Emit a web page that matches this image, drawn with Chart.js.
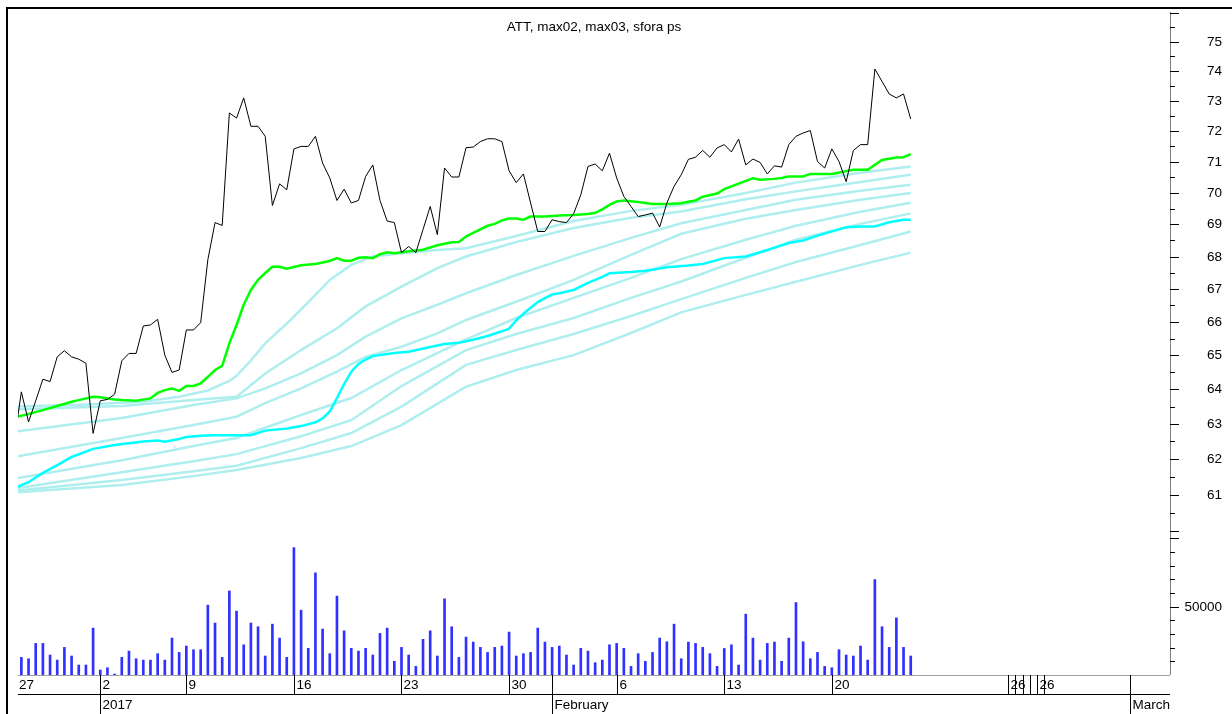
<!DOCTYPE html>
<html>
<head>
<meta charset="utf-8">
<script src="https://cdn.jsdelivr.net/npm/chart.js@4.4.0/dist/chart.umd.min.js"></script>
<style>
  html, body { margin: 0; padding: 0; background: #fff; }
  #wrap { position: relative; width: 1232px; height: 714px; }
</style>
</head>
<body>
<div id="wrap"><canvas id="chart" width="1232" height="714"></canvas></div>
<script>
// price bars, one point every 1/3 of a trading day (index 0 = 27 Dec)
var closePrice = [62.51, 63.93, 63.06, 63.67, 64.30, 64.23, 64.96, 65.14, 64.96, 64.89,
  64.77, 62.73, 63.67, 63.71, 63.86, 64.84, 65.06, 65.06, 65.88, 65.91,
  66.08, 65.01, 64.50, 64.57, 65.76, 65.76, 65.98, 67.90, 69.06, 68.97,
  72.60, 72.43, 73.10, 72.16, 72.16, 71.83, 69.60, 70.29, 70.10, 71.42,
  71.50, 71.50, 71.83, 70.96, 70.48, 69.76, 70.12, 69.68, 69.76, 70.53,
  70.90, 69.76, 69.11, 69.06, 68.12, 68.31, 68.12, 68.84, 69.57, 68.68,
  70.80, 70.51, 70.51, 71.46, 71.48, 71.66, 71.75, 71.75, 71.66, 70.71,
  70.33, 70.61, 69.68, 68.78, 68.78, 69.15, 69.09, 69.06, 69.34, 69.94,
  70.85, 70.93, 70.71, 71.28, 70.48, 69.89, 69.57, 69.25, 69.30, 69.36,
  68.92, 69.68, 70.21, 70.58, 71.08, 71.15, 71.37, 71.15, 71.45, 71.56,
  71.32, 71.74, 70.90, 71.09, 70.98, 70.61, 70.87, 70.83, 71.56, 71.83,
  71.94, 72.02, 71.01, 70.80, 71.42, 71.01, 70.36, 71.37, 71.56, 71.56,
  74.07, 73.65, 73.23, 73.10, 73.23, 72.40];

// volume, starting at index 1
var volume = [12900, 11900, 23100, 23100, 14600, 10900, 20200, 13900, 7300, 7300,
  34300, 3650, 5300, 730, 12900, 17500, 11900, 10900, 10900, 15600,
  10900, 27000, 16500, 21200, 18500, 18500, 51100, 38000, 12900, 61500,
  46700, 22100, 38000, 35300, 13900, 37200, 27000, 12900, 93200, 47400,
  19500, 74700, 33600, 15600, 57700, 32300, 19500, 17500, 19500, 14600,
  30400, 34300, 10000, 20200, 14600, 6300, 26100, 32300, 13900, 55700,
  35300, 12900, 27700, 24100, 20200, 16500, 20200, 21200, 31400, 13900,
  15600, 16500, 34300, 24100, 20200, 21200, 14600, 7300, 19500, 17500,
  9000, 10900, 22100, 23100, 19500, 6300, 15600, 10000, 16500, 27000,
  24300, 37200, 11900, 24100, 23100, 20200, 15600, 6300, 19400, 22100,
  7300, 44500, 27000, 10900, 23100, 24100, 10000, 27000, 53000, 24300,
  11900, 16500, 6300, 5300, 18500, 14600, 13900, 21200, 10900, 69800,
  35300, 20200, 41800, 20200, 13900];

// [index, value]
var max02 = [[0,63.19],[2,63.29],[4,63.40],[6,63.52],[8,63.64],[9,63.69],[11,63.79],[12,63.77],[14,63.71],[15,63.69],
  [17,63.67],[19,63.74],[20,63.90],[21,63.98],[22,64.03],[23,63.96],[24,64.10],[25,64.10],[26,64.18],[27,64.37],
  [28,64.57],[29,64.69],[30,65.36],[31,65.91],[32,66.52],[33,66.97],[34,67.28],[35,67.49],[36,67.68],[37,67.68],
  [38,67.62],[40,67.73],[42,67.77],[44,67.86],[45,67.95],[46,67.87],[47,67.87],[48,67.96],[49,67.98],[50,67.95],
  [51,68.07],[52,68.13],[53,68.10],[55,68.16],[57,68.21],[59,68.35],[61,68.44],[62,68.45],[63,68.62],[64,68.74],
  [66,68.96],[67,69.02],[68,69.13],[69,69.19],[70,69.19],[71,69.15],[72,69.25],[74,69.25],[76,69.28],[78,69.30],
  [80,69.33],[81,69.37],[82,69.48],[83,69.62],[84,69.73],[85,69.76],[87,69.71],[89,69.65],[91,69.65],[93,69.67],
  [94,69.72],[95,69.76],[96,69.88],[98,69.98],[99,70.12],[101,70.30],[103,70.47],[104,70.42],[106,70.45],[107,70.48],
  [108,70.53],[110,70.53],[111,70.61],[114,70.61],[117,70.74],[119,70.74],[121,71.06],[123,71.14],[124,71.15],[125,71.25]];

var max03 = [[0,61.18],[2,61.35],[4,61.61],[6,61.83],[8,62.06],[10,62.21],[11,62.29],[14,62.40],[16,62.45],[18,62.50],
  [20,62.53],[21,62.49],[23,62.57],[24,62.63],[26,62.66],[28,62.68],[31,62.68],[33,62.68],[35,62.81],[38,62.87],
  [40,62.94],[42,63.05],[43,63.16],[44,63.36],[45,63.75],[46,64.16],[47,64.52],[48,64.75],[49,64.88],[50,64.98],
  [53,65.07],[55,65.11],[58,65.25],[60,65.34],[62,65.38],[64,65.47],[66,65.58],[68,65.72],[69,65.80],[70,66.05],
  [71,66.25],[72,66.43],[73,66.60],[74,66.72],[75,66.83],[76,66.87],[78,66.97],[80,67.19],[82,67.37],[83,67.48],
  [86,67.52],[88,67.56],[91,67.67],[94,67.72],[96,67.77],[99,67.95],[102,68.00],[105,68.20],[108,68.42],[110,68.50],
  [112,68.65],[116,68.91],[118,68.94],[120,68.94],[122,69.07],[124,69.15],[125,69.15]];

var band1 = [[0,63.50],[10,63.56],[18,63.64],[23,63.79],[27,63.97],[30,64.25],[31,64.40],[33,64.85],[35,65.36],[38,65.95],
  [41,66.60],[44,67.28],[47,67.74],[50,68.00],[54,68.10],[59,68.20],[63,68.26],[70,68.64],[78,69.11],[86,69.43],
  [93,69.62],[102,70.00],[109,70.33],[118,70.65],[125,70.85]];
var band2 = [[0,63.42],[15,63.52],[25,63.69],[31,63.79],[35,64.47],[40,65.16],[45,65.81],[49,66.47],[54,67.07],[59,67.64],
  [63,68.00],[70,68.45],[78,68.89],[86,69.21],[93,69.41],[102,69.80],[109,70.05],[118,70.35],[125,70.58]];
var band3 = [[0,62.78],[15,63.17],[25,63.55],[31,63.74],[35,64.03],[40,64.47],[45,65.01],[49,65.56],[54,66.11],[59,66.52],
  [63,66.87],[70,67.43],[78,68.02],[86,68.58],[93,69.04],[102,69.46],[109,69.78],[118,70.07],[125,70.26]];
var band4 = [[0,62.06],[15,62.60],[25,62.97],[31,63.21],[35,63.60],[40,64.03],[45,64.52],[49,64.96],[54,65.26],[59,65.66],
  [63,66.06],[70,66.61],[78,67.28],[86,68.05],[93,68.71],[102,69.18],[109,69.46],[118,69.78],[125,70.00]];
var band5 = [[0,61.45],[15,61.97],[25,62.37],[31,62.60],[40,63.26],[47,63.75],[54,64.57],[63,65.48],[70,66.12],[78,66.73],
  [86,67.34],[93,67.92],[102,68.52],[109,68.96],[118,69.40],[125,69.69]];
var band6 = [[0,61.17],[15,61.63],[25,61.94],[31,62.14],[40,62.65],[47,63.11],[54,64.10],[63,65.16],[70,65.64],[78,66.12],
  [86,66.73],[93,67.23],[102,67.96],[109,68.52],[118,69.02],[125,69.35]];
var band7 = [[0,61.11],[15,61.41],[25,61.66],[31,61.81],[40,62.31],[47,62.74],[54,63.50],[63,64.72],[70,65.16],[78,65.64],
  [86,66.18],[93,66.69],[102,67.34],[109,67.83],[118,68.36],[125,68.78]];
var band8 = [[0,61.06],[15,61.27],[25,61.52],[31,61.69],[40,62.03],[47,62.37],[54,62.97],[63,64.08],[70,64.57],[78,65.01],
  [86,65.67],[93,66.29],[102,66.82],[109,67.22],[118,67.74],[125,68.12]];

var dayTickPos = [0, 12, 24, 39, 54, 69, 84, 99, 114, 138.6, 139.6, 140.6, 141.6, 142.6, 143.6];
var dayTickLabels = ['27', '2', '9', '16', '23', '30', '6', '13', '20', '26', '', '', '', '26', ''];
var periodTickPos = [12, 75, 155.6];
var periodTickLabels = ['2017', 'February', 'March'];
var volumeTickLabels = ['50000'];

var FONT = '13.5px "Liberation Sans", Arial, sans-serif';

function pts(pairs) {
  return pairs.map(function(p) { return {x: p[0], y: p[1]}; });
}

function bandSet(pairs) {
  return {type: 'line', data: pts(pairs), borderColor: '#afeeee', borderWidth: 2.5,
    pointRadius: 0, tension: 0, yAxisID: 'y', order: 5};
}

//draws the frame, axes ticks, labels and title the way the original package does
var framePlugin = {
  id: 'frame',
  afterDraw: function(chart) {
    var ctx = chart.ctx;
    var area = chart.chartArea;
    var sx = chart.scales.x, sp = chart.scales.y, sv = chart.scales.yv;
    var axisX = area.right;
    ctx.save();

    // title
    ctx.fillStyle = '#000';
    ctx.font = FONT;
    ctx.textAlign = 'center';
    ctx.textBaseline = 'middle';
    ctx.fillText('ATT, max02, max03, sfora ps', (area.left + area.right) / 2, 27);

    // outer frame
    ctx.strokeStyle = '#000';
    ctx.lineWidth = 2;
    ctx.beginPath();
    ctx.moveTo(7, 714); ctx.lineTo(7, 8); ctx.lineTo(1232, 8);
    ctx.stroke();

    // right axis line
    ctx.lineWidth = 1;
    ctx.strokeStyle = '#808080';
    ctx.beginPath();
    ctx.moveTo(axisX + 0.5, area.top); ctx.lineTo(axisX + 0.5, area.bottom);
    ctx.stroke();

    // price ticks
    ctx.strokeStyle = '#000';
    ctx.textAlign = 'right';
    for (var v = 60; v <= 76; v += 0.5) {
      var y = Math.round(sp.getPixelForValue(v)) + 0.5;
      var major = v % 1 === 0;
      ctx.beginPath();
      ctx.moveTo(axisX, y); ctx.lineTo(axisX + (major ? 9 : 5), y);
      ctx.stroke();
      if (major && v > 60 && v < 76) ctx.fillText(String(v), 1222, y);
    }

    // volume ticks
    for (var w = 10000; w <= 100000; w += 10000) {
      var yv = Math.round(sv.getPixelForValue(w)) + 0.5;
      var big = w % 50000 === 0;
      ctx.beginPath();
      ctx.moveTo(axisX, yv); ctx.lineTo(axisX + (big ? 9 : 5), yv);
      ctx.stroke();
      if (w === 50000) ctx.fillText(volumeTickLabels[0], 1222, yv);
    }

    // date axis
    var base = area.bottom;
    ctx.strokeStyle = '#a0a0a0';
    ctx.beginPath();
    ctx.moveTo(area.left, base + 0.5); ctx.lineTo(axisX, base + 0.5);
    ctx.stroke();
    ctx.strokeStyle = '#000';
    ctx.beginPath();
    ctx.moveTo(area.left, 694.5); ctx.lineTo(axisX, 694.5);
    ctx.stroke();

    ctx.textAlign = 'left';
    dayTickPos.forEach(function(p, k) {
      var x = Math.round(sx.getPixelForValue(p)) + 0.5;
      if (x >= area.left) {
        ctx.beginPath(); ctx.moveTo(x, base); ctx.lineTo(x, 694); ctx.stroke();
      }
      if (dayTickLabels[k]) ctx.fillText(dayTickLabels[k], Math.max(x + 2, area.left + 1), 685);
    });
    periodTickPos.forEach(function(p, k) {
      var x = Math.round(sx.getPixelForValue(p)) + 0.5;
      ctx.beginPath(); ctx.moveTo(x, base); ctx.lineTo(x, 714); ctx.stroke();
      ctx.fillText(periodTickLabels[k], x + 2, 705);
    });

    ctx.restore();
  }
};

var datasets = [
  {type: 'line', data: closePrice.map(function(v, i) { return {x: i, y: v}; }),
    borderColor: '#000', borderWidth: 1, pointRadius: 0, tension: 0, yAxisID: 'y', order: 0},
  {type: 'line', data: pts(max02), borderColor: '#00ff00', borderWidth: 2.5,
    pointRadius: 0, tension: 0, yAxisID: 'y', order: 1},
  {type: 'line', data: pts(max03), borderColor: '#00ffff', borderWidth: 2.5,
    pointRadius: 0, tension: 0, yAxisID: 'y', order: 2},
  bandSet(band1), bandSet(band2), bandSet(band3), bandSet(band4),
  bandSet(band5), bandSet(band6), bandSet(band7), bandSet(band8),
  {type: 'bar', data: volume.map(function(v, i) { return {x: i + 1, y: v}; }),
    backgroundColor: '#3030ff', barThickness: 2, yAxisID: 'yv', order: 10}
];

new Chart(document.getElementById('chart'), {
  type: 'line',
  data: {datasets: datasets},
  options: {
    responsive: false,
    animation: false,
    devicePixelRatio: 1,
    events: [],
    layout: {padding: {left: 18, top: 12, right: 10, bottom: 0}},
    plugins: {legend: {display: false}, tooltip: {enabled: false}, title: {display: false}},
    scales: {
      x: {
        type: 'linear', min: 0.53, max: 161.15, offset: false,
        ticks: {display: false}, grid: {display: false, offset: false}, border: {display: false},
        afterFit: function(s) { s.height = 39; }
      },
      y: {
        type: 'logarithmic', position: 'right', stack: 'panes', stackWeight: 519,
        min: 60, max: 76.02,
        ticks: {display: false}, grid: {display: false}, border: {display: false},
        afterFit: function(s) { s.width = 52; }
      },
      yv: {
        type: 'linear', position: 'right', stack: 'panes', stackWeight: 144,
        min: 0, max: 105330,
        ticks: {display: false}, grid: {display: false}, border: {display: false},
        afterFit: function(s) { s.width = 52; }
      }
    }
  },
  plugins: [framePlugin]
});
</script>
</body>
</html>
